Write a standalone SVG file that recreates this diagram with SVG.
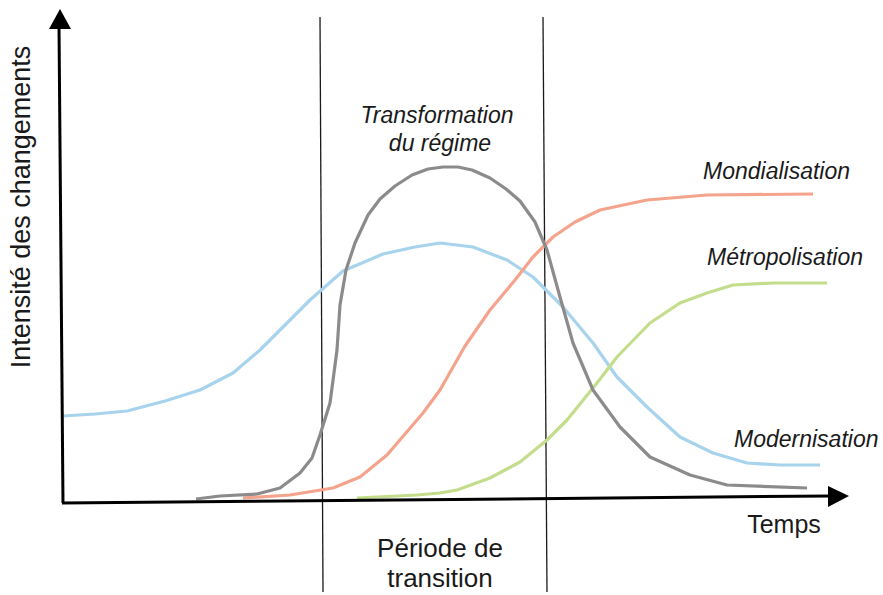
<svg xmlns="http://www.w3.org/2000/svg" width="883" height="595" viewBox="0 0 883 595">
<style>
.axis{stroke:#000;stroke-width:3;fill:none}
.sep{stroke:#1a1a1a;stroke-width:1.3;fill:none}
.curve{fill:none;stroke-width:3.2;stroke-linejoin:round;stroke-linecap:butt}
.lbl{font-family:"Liberation Sans",Arial,sans-serif;fill:#1a1a1a}
.it{font-family:"Liberation Sans",Arial,sans-serif;font-style:italic;fill:#1a1a1a;font-size:23px}
</style>
<rect width="883" height="595" fill="#fff"/>
<g id="connectors">
<g id="separators">
<line class="sep" x1="320" y1="17" x2="323" y2="592"/>
<line class="sep" x1="543" y1="17" x2="547" y2="592"/>
</g>
<g id="curve-modernisation">
<polyline class="curve" stroke="#a8d3ec" points="63,416 95,414 127,411 165,401 200,390 233,373 260,350 285,325 310,300 343,271 383,254 415,247 440,243 473,247 507,260 533,277 563,307 593,343 617,377 647,407 680,437 713,453 747,463 780,465 820,465"/>
</g>
<g id="curve-mondialisation">
<polyline class="curve" stroke="#f4a38c" points="243,498 290,495 333,488 360,477 387,455 423,413 440,390 465,346 490,310 515,280 533,257 553,237 575,222 600,210 647,200 707,195 813,194"/>
</g>
<g id="curve-metropolisation">
<polyline class="curve" stroke="#c4dd8c" points="357,498 417,495 440,493 457,490 490,478 520,462 547,440 567,420 597,383 617,357 650,323 680,303 707,293 733,285 773,283 827,283"/>
</g>
<g id="curve-transformation">
<polyline class="curve" stroke="#8d8a8c" points="196,499 220,496 257,494 280,488 300,473 312,458 320,435 330,403 337,350 340,305 346,270 355,243 368,215 380,199 395,186 412,175 428,169 443,167 458,167 472,170 490,178 506,189 520,201 535,222 547,250 560,297 573,343 593,390 620,427 650,457 690,475 727,485 807,488"/>
</g>
<g id="axes">
<line class="axis" x1="63" y1="503" x2="59" y2="26"/>
<polygon points="49,29 60,9 71,29" fill="#000"/>
<line class="axis" x1="62" y1="503" x2="830" y2="496"/>
<polygon points="828,486 849,496 828,507" fill="#000"/>
</g>
</g>
<g id="label-y">
<text class="lbl" font-size="27" transform="translate(30,207) rotate(-90)" text-anchor="middle">Intensité des changements</text>
</g>
<g id="label-x">
<text class="lbl" font-size="25" x="784" y="533" text-anchor="middle">Temps</text>
</g>
<g id="label-periode">
<text class="lbl" font-size="26" x="440" y="557" text-anchor="middle">Période de</text>
<text class="lbl" font-size="26" x="440" y="587" text-anchor="middle">transition</text>
</g>
<g id="label-transformation">
<text class="it" x="437" y="123" text-anchor="middle">Transformation</text>
<text class="it" x="440" y="151" text-anchor="middle">du régime</text>
</g>
<g id="label-mondialisation">
<text class="it" x="703" y="179">Mondialisation</text>
</g>
<g id="label-metropolisation">
<text class="it" x="707" y="265">Métropolisation</text>
</g>
<g id="label-modernisation">
<text class="it" x="734" y="447">Modernisation</text>
</g>
</svg>
